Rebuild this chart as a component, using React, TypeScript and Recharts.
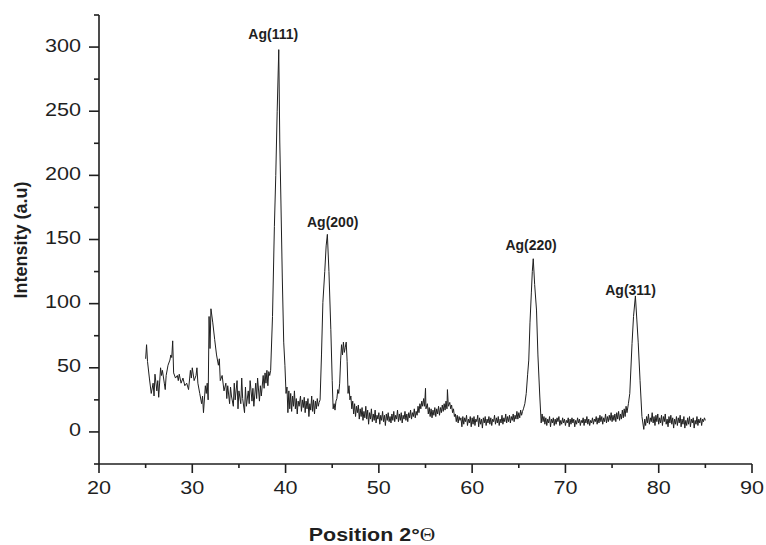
import React from 'react'
import { LineChart, Line, XAxis, YAxis, ReferenceDot } from 'recharts'

// 2θ (deg), intensity (a.u), split by region
const lowAngle: [number, number][] = [
  [25.0, 57], [25.1, 68], [25.2, 55], [25.4, 42], [25.6, 30], [25.8, 38], [25.9, 28], [26.0, 45],
  [26.2, 32], [26.3, 40], [26.4, 27], [26.6, 50], [26.7, 44], [26.8, 48], [27.0, 38], [27.1, 33],
  [27.2, 44], [27.4, 52], [27.6, 56], [27.7, 60], [27.8, 58], [27.9, 71], [28.0, 46], [28.2, 42],
  [28.4, 44], [28.5, 40], [28.6, 45], [28.8, 38], [29.0, 42], [29.2, 36], [29.4, 38], [29.6, 33],
  [29.8, 48], [29.9, 42], [30.0, 50], [30.2, 40], [30.4, 44], [30.5, 50], [30.6, 38], [30.8, 30],
  [31.0, 22], [31.1, 28], [31.2, 15], [31.4, 36], [31.5, 30], [31.6, 38], [31.7, 25], [31.8, 90],
  [31.9, 65], [32.0, 96], [32.2, 85], [32.4, 72], [32.6, 60], [32.8, 52], [32.9, 57], [33.0, 40],
  [33.2, 44], [33.4, 32], [33.6, 38], [33.7, 26], [33.8, 36], [34.0, 22], [34.1, 35], [34.2, 28],
  [34.4, 20], [34.5, 38], [34.6, 25], [34.8, 40], [34.9, 18], [35.0, 32], [35.2, 22], [35.3, 42],
  [35.4, 26], [35.6, 15], [35.7, 35], [35.8, 20], [36.0, 32], [36.1, 22], [36.2, 40], [36.4, 24],
  [36.5, 34], [36.6, 20], [36.8, 38], [36.9, 26], [37.0, 42], [37.2, 24], [37.3, 36], [37.4, 28],
  [37.6, 44], [37.7, 34], [37.8, 46], [37.9, 38], [38.0, 48], [38.1, 36], [38.2, 47], [38.3, 44],
]

const peak111: [number, number][] = [
  [38.4, 48], [38.6, 90], [38.8, 160], [38.95, 200], [39.1, 250], [39.27, 298], [39.38, 226],
  [39.5, 180], [39.65, 120], [39.8, 70], [39.93, 52], [40.05, 30], [40.15, 35], [40.25, 15],
]

const between: [number, number][] = [
  [40.35, 32], [40.45, 18], [40.55, 30], [40.65, 16], [40.75, 28], [40.85, 20], [40.95, 32],
  [41.05, 18], [41.15, 26], [41.25, 14], [41.35, 24], [41.45, 20], [41.6, 28], [41.7, 16],
  [41.8, 25], [41.9, 19], [42.0, 27], [42.1, 15], [42.2, 24], [42.3, 18], [42.4, 26], [42.5, 12],
  [42.6, 22], [42.7, 17], [42.8, 28], [42.9, 16], [43.0, 25], [43.1, 14], [43.2, 24], [43.3, 18],
  [43.4, 26], [43.5, 20], [43.6, 23],
]

const peak200: [number, number][] = [
  [43.7, 25], [43.85, 60], [44.0, 101], [44.2, 125], [44.35, 145], [44.48, 154], [44.65, 125],
  [44.85, 80], [45.0, 40], [45.1, 18], [45.2, 22], [45.3, 17], [45.4, 24], [45.5, 26], [45.6, 33],
  [45.7, 30], [45.8, 38], [45.9, 56], [46.0, 68], [46.1, 60], [46.2, 70], [46.3, 62], [46.4, 66],
  [46.5, 70], [46.6, 55], [46.7, 30], [46.8, 36], [46.9, 25], [47.0, 28],
]

const midAngle: [number, number][] = [
  [47.1, 18], [47.2, 24], [47.3, 14], [47.4, 22], [47.5, 12], [47.6, 20], [47.7, 15], [47.8, 21],
  [47.9, 10], [48.0, 18], [48.1, 12], [48.2, 19], [48.3, 9], [48.4, 16], [48.5, 11], [48.6, 20],
  [48.7, 10], [48.8, 17], [48.9, 6], [49.0, 15], [49.1, 10], [49.2, 18], [49.3, 8], [49.4, 14],
  [49.5, 9], [49.6, 17], [49.7, 7], [49.8, 13], [49.9, 10], [50.0, 15], [50.1, 6], [50.2, 13],
  [50.3, 9], [50.4, 16], [50.5, 8], [50.6, 13], [50.7, 5], [50.8, 14], [50.9, 9], [51.0, 15],
  [51.1, 8], [51.2, 12], [51.3, 7], [51.4, 14], [51.5, 9], [51.6, 16], [51.7, 8], [51.8, 13],
  [51.9, 10], [52.0, 17], [52.1, 8], [52.2, 14], [52.3, 9], [52.4, 15], [52.5, 7], [52.6, 13],
  [52.7, 10], [52.8, 16], [52.9, 9], [53.0, 14], [53.1, 8], [53.2, 15], [53.3, 11], [53.4, 17],
  [53.5, 10], [53.6, 15], [53.7, 12], [53.8, 18], [53.9, 11], [54.0, 16], [54.1, 13], [54.2, 20],
  [54.3, 15], [54.4, 22], [54.5, 18], [54.6, 24], [54.7, 20], [54.8, 26], [54.9, 20], [55.0, 34],
  [55.05, 18], [55.2, 22], [55.3, 14], [55.4, 19], [55.5, 12], [55.6, 18], [55.7, 11], [55.8, 17],
  [55.9, 13], [56.0, 19], [56.1, 12], [56.2, 18], [56.3, 14], [56.4, 20], [56.5, 13], [56.6, 19],
  [56.7, 15], [56.8, 21], [56.9, 16], [57.0, 22], [57.1, 17], [57.2, 24], [57.3, 18], [57.35, 33],
  [57.45, 20], [57.6, 23], [57.7, 18], [57.8, 21], [57.9, 15], [58.0, 18], [58.1, 12], [58.2, 14],
  [58.3, 8], [58.4, 13], [58.5, 7], [58.6, 12], [58.7, 9], [58.8, 11], [58.9, 4], [59.0, 12],
  [59.1, 6], [59.2, 11], [59.3, 8], [59.4, 13], [59.5, 5], [59.6, 10], [59.7, 7], [59.8, 12],
  [59.9, 4], [60.0, 11], [60.1, 6], [60.2, 12], [60.3, 5], [60.4, 10], [60.5, 8], [60.6, 13],
  [60.7, 4], [60.8, 11], [60.9, 6], [61.0, 10], [61.1, 3], [61.2, 11], [61.3, 7], [61.4, 12],
  [61.5, 5], [61.6, 10], [61.7, 7], [61.8, 12], [61.9, 6], [62.0, 11], [62.1, 5], [62.2, 10],
  [62.3, 8], [62.4, 13], [62.5, 6], [62.6, 11], [62.7, 7], [62.8, 12], [62.9, 5], [63.0, 10],
  [63.1, 7], [63.2, 13], [63.3, 6], [63.4, 11], [63.5, 8], [63.6, 14], [63.7, 7], [63.8, 12],
  [63.9, 8], [64.0, 13], [64.1, 7], [64.2, 12], [64.3, 9], [64.4, 14], [64.5, 8], [64.6, 13],
  [64.7, 10], [64.8, 16], [64.9, 10], [65.0, 15], [65.1, 11], [65.2, 17], [65.3, 13], [65.4, 16],
  [65.5, 18], [65.65, 22],
]

const peak220: [number, number][] = [
  [65.8, 30], [65.95, 45], [66.07, 56], [66.2, 85], [66.35, 109], [66.45, 125], [66.55, 135],
  [66.7, 115], [66.9, 95], [67.05, 60], [67.25, 28], [67.4, 7],
]

const highAngle: [number, number][] = [
  [67.5, 14], [67.6, 8], [67.7, 12], [67.8, 6], [67.9, 11], [68.0, 5], [68.1, 10], [68.2, 7],
  [68.3, 12], [68.4, 4], [68.5, 10], [68.6, 7], [68.7, 11], [68.8, 5], [68.9, 10], [69.0, 6],
  [69.1, 11], [69.2, 8], [69.3, 12], [69.4, 5], [69.5, 9], [69.6, 6], [69.7, 11], [69.8, 7],
  [69.9, 10], [70.0, 5], [70.1, 9], [70.2, 7], [70.3, 11], [70.4, 4], [70.5, 10], [70.6, 6],
  [70.7, 11], [70.8, 7], [70.9, 10], [71.0, 4], [71.1, 9], [71.2, 6], [71.3, 11], [71.4, 7],
  [71.5, 10], [71.6, 5], [71.7, 9], [71.8, 7], [71.9, 11], [72.0, 5], [72.1, 10], [72.2, 7],
  [72.3, 12], [72.4, 6], [72.5, 10], [72.6, 5], [72.7, 9], [72.8, 7], [72.9, 11], [73.0, 6],
  [73.1, 10], [73.2, 8], [73.3, 12], [73.4, 6], [73.5, 11], [73.6, 7], [73.7, 13], [73.8, 8],
  [73.9, 12], [74.0, 6], [74.1, 11], [74.2, 8], [74.3, 14], [74.4, 7], [74.5, 12], [74.6, 8],
  [74.7, 13], [74.8, 9], [74.9, 15], [75.0, 8], [75.1, 13], [75.2, 9], [75.3, 14], [75.4, 8],
  [75.5, 15], [75.6, 10], [75.7, 16], [75.8, 9], [75.9, 14], [76.0, 10], [76.1, 17], [76.2, 11],
  [76.3, 18], [76.4, 12], [76.5, 20], [76.6, 15], [76.75, 22],
]

const peak311: [number, number][] = [
  [76.9, 30], [77.14, 69], [77.3, 90], [77.5, 106], [77.65, 88], [77.8, 70], [78.0, 40],
  [78.2, 12], [78.4, 2],
]

const tail: [number, number][] = [
  [78.5, 10], [78.6, 5], [78.7, 12], [78.8, 7], [78.9, 14], [79.0, 6], [79.1, 11], [79.2, 8],
  [79.3, 15], [79.4, 7], [79.5, 12], [79.6, 5], [79.7, 13], [79.8, 8], [79.9, 14], [80.0, 6],
  [80.1, 11], [80.2, 7], [80.3, 13], [80.4, 5], [80.5, 12], [80.6, 8], [80.7, 14], [80.8, 6],
  [80.9, 10], [81.0, 4], [81.1, 12], [81.2, 7], [81.3, 13], [81.4, 6], [81.5, 11], [81.6, 3],
  [81.7, 10], [81.8, 6], [81.9, 12], [82.0, 5], [82.1, 11], [82.2, 7], [82.3, 13], [82.4, 4],
  [82.5, 10], [82.6, 6], [82.7, 12], [82.8, 3], [82.9, 9], [83.0, 5], [83.1, 11], [83.2, 6],
  [83.3, 12], [83.4, 4], [83.5, 10], [83.6, 7], [83.7, 11], [83.8, 3], [83.9, 9], [84.0, 6],
  [84.1, 12], [84.2, 5], [84.3, 10], [84.4, 7], [84.5, 11], [84.6, 5], [84.7, 10], [84.8, 8],
  [84.9, 11], [85.0, 9],
]

// peak labels: text, 2θ and intensity of the label baseline
const peakLabels: { text: string; x: number; y: number }[] = [
  { text: 'Ag(111)', x: 38.68, y: 306 },
  { text: 'Ag(200)', x: 45.05, y: 160 },
  { text: 'Ag(220)', x: 66.32, y: 142 },
  { text: 'Ag(311)', x: 76.98, y: 107 },
]

const xTicks = [20, 25, 30, 35, 40, 45, 50, 55, 60, 65, 70, 75, 80, 85, 90]
const yTicks = [-25, 0, 25, 50, 75, 100, 125, 150, 175, 200, 225, 250, 275, 300, 325]

const data = [
  ...lowAngle, ...peak111, ...between, ...peak200, ...midAngle,
  ...peak220, ...highAngle, ...peak311, ...tail,
].map(([x, y]) => ({ x, y }))

const ink = '#1f1f1f'
const font = '"Liberation Sans", Arial, sans-serif'

const XTick = (props: any) => {
  const { x, y, payload } = props
  const major = payload.value % 10 === 0
  return (
    <g>
      <line x1={x} x2={x} y1={y} y2={y + (major ? 9 : 4)} stroke={ink} strokeWidth={1.6} />
      {major && (
        <text
          transform={`translate(${x},${y + 30}) scale(1.2,1)`}
          textAnchor="middle"
          fontSize={18}
          fontFamily={font}
          fill={ink}
        >
          {payload.value}
        </text>
      )}
    </g>
  )
}

const YTick = (props: any) => {
  const { x, y, payload } = props
  const major = payload.value % 50 === 0
  return (
    <g>
      <line x1={x - (major ? 10 : 5)} x2={x} y1={y} y2={y} stroke={ink} strokeWidth={1.6} />
      {major && (
        <text
          transform={`translate(${x - 18},${y + 4.5}) scale(1.2,1)`}
          textAnchor="end"
          fontSize={18}
          fontFamily={font}
          fill={ink}
        >
          {payload.value}
        </text>
      )}
    </g>
  )
}

const PeakLabel = (text: string) => (props: any) => (
  <text
    x={props.cx}
    y={props.cy}
    textAnchor="middle"
    fontSize={14}
    fontWeight="bold"
    fontFamily={font}
    fill={ink}
  >
    {text}
  </text>
)

export default function App() {
  return (
    <div style={{ position: 'absolute', left: 0, top: 0, width: 766, height: 545, background: '#fff' }}>
      <LineChart width={766} height={545} data={data} margin={{ top: 15, right: 14, bottom: 0, left: 0 }}>
        <XAxis
          dataKey="x"
          type="number"
          domain={[20, 90]}
          ticks={xTicks}
          interval={0}
          height={81}
          tickSize={0}
          tickMargin={0}
          tickLine={false}
          tick={<XTick />}
          axisLine={{ stroke: ink, strokeWidth: 1.6 }}
        />
        <YAxis
          type="number"
          domain={[-25, 325]}
          ticks={yTicks}
          interval={0}
          width={99}
          tickSize={0}
          tickMargin={0}
          tickLine={false}
          tick={<YTick />}
          axisLine={{ stroke: ink, strokeWidth: 1.6 }}
        />
        <Line
          dataKey="y"
          type="linear"
          stroke={ink}
          strokeWidth={1}
          dot={false}
          isAnimationActive={false}
        />
        {peakLabels.map((p) => (
          <ReferenceDot key={p.text} x={p.x} y={p.y} r={0} ifOverflow="visible" shape={PeakLabel(p.text)} />
        ))}
      </LineChart>
      <div
        style={{
          position: 'absolute',
          left: 20.5,
          top: 240,
          transform: 'translate(-50%, -50%) rotate(-90deg)',
          whiteSpace: 'nowrap',
          fontFamily: font,
          fontWeight: 'bold',
          fontSize: 18,
          lineHeight: '18px',
          color: ink,
        }}
      >
        Intensity (a.u)
      </div>
      <div
        style={{
          position: 'absolute',
          left: 371.5,
          top: 535,
          transform: 'translate(-50%, -50%) scaleX(1.19)',
          whiteSpace: 'nowrap',
          fontFamily: font,
          fontWeight: 'bold',
          fontSize: 18,
          lineHeight: '18px',
          color: ink,
        }}
      >
        Position 2°<span style={{ fontFamily: '"Liberation Serif", serif', fontWeight: 'normal' }}>Θ</span>
      </div>
    </div>
  )
}
